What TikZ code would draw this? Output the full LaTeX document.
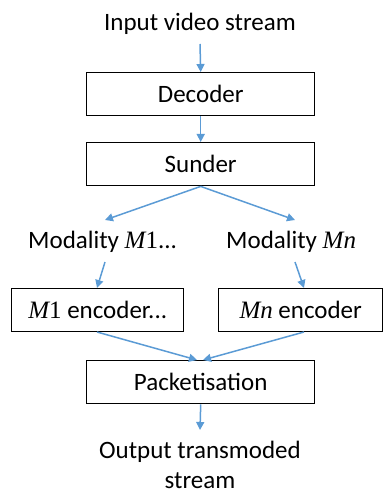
\documentclass[tikz,border=0pt]{standalone}
\usepackage{fontspec}
\setmainfont{Carlito}
\newfontfamily\mathser{Liberation Serif}
\newcommand{\mvar}[1]{{\mathser\itshape #1}}
\newcommand{\mnum}[1]{{\mathser #1}}
\usetikzlibrary{arrows.meta}
\definecolor{arrowblue}{HTML}{5B9BD5}
\begin{document}
\begin{tikzpicture}[x=1pt,y=-1pt,
  box/.style={draw=black,line width=1.4pt,minimum height=43pt,inner sep=0pt,anchor=north west},
  lbl/.style={inner sep=0pt,font=\fontsize{25}{30}\selectfont},
  arr/.style={draw=arrowblue,line width=1.5pt,-{Triangle[width=8pt,length=8pt]}}]
\useasboundingbox (0,0) rectangle (386,494);
\node[lbl] (in) at (200,24) {Input video stream};
\node[box,minimum width=228pt,lbl] (dec) at (86,72) {};
\node[lbl] at (dec.center) {Decoder};
\node[box,minimum width=228pt] (sun) at (86,142) {};
\node[lbl] at (sun.center) {Sunder};
\node[lbl,anchor=west] (m1) at (28,242) {Modality \mvar{M}\mnum{1}...};
\node[lbl,anchor=west] (mn) at (226,242) {Modality \mvar{Mn}};
\node[box,minimum width=172pt] (e1) at (11,288) {};
\node[lbl] at (e1.center) {\mvar{M}\mnum{1} encoder...};
\node[box,minimum width=164pt] (en) at (218,288) {};
\node[lbl] at (en.center) {\mvar{Mn} encoder};
\node[box,minimum width=228pt] (pk) at (86,360) {};
\node[lbl] at (pk.center) {Packetisation};
\node[lbl,align=center] (out) at (200,465) {Output transmoded\\stream};
\coordinate (inb) at (200,44);
\coordinate (l1) at (105,220);
\coordinate (r1) at (295,220);
\coordinate (l2) at (105,262);
\coordinate (r2) at (295,262);
\coordinate (l3) at (97,288);
\coordinate (r3) at (304,288);
\coordinate (l4) at (97,332);
\coordinate (r4) at (304,332);
\coordinate (pkl) at (197,360);
\coordinate (pkr) at (203,360);
\coordinate (outt) at (200,430);
\draw[arr] (inb) -- (dec.north);
\draw[arr] (dec.south) -- (sun.north);
\draw[arr] (sun.south) -- (l1);
\draw[arr] (sun.south) -- (r1);
\draw[arr] (l2) -- (l3);
\draw[arr] (r2) -- (r3);
\draw[arr] (l4) -- (pkl);
\draw[arr] (r4) -- (pkr);
\draw[arr] (pk.south) -- (outt);
\end{tikzpicture}
\end{document}
